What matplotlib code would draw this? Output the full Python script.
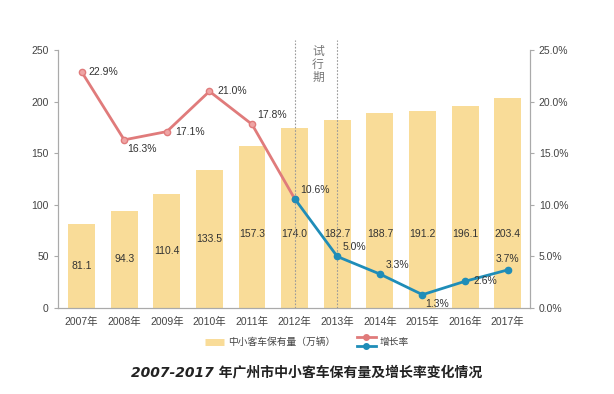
import matplotlib
matplotlib.use('Agg')
import matplotlib.pyplot as plt
from matplotlib.lines import Line2D
from matplotlib.legend_handler import HandlerBase

plt.rcParams['font.family'] = ['Liberation Sans', 'Noto Sans CJK SC']

years = ['2007年', '2008年', '2009年', '2010年', '2011年', '2012年',
         '2013年', '2014年', '2015年', '2016年', '2017年']
stock = [81.1, 94.3, 110.4, 133.5, 157.3, 174.0, 182.7, 188.7, 191.2, 196.1, 203.4]
growth = [22.9, 16.3, 17.1, 21.0, 17.8, 10.6, 5.0, 3.3, 1.3, 2.6, 3.7]
split = 5  # 2012年: red before, blue after

bar_c = '#F9DC98'
red = '#E07B7B'
blue = '#1F8DB8'
txt = '#333333'
axc = '#AAAAAA'


class StackedLines(HandlerBase):
    def create_artists(self, legend, orig_handle, xdescent, ydescent,
                       width, height, fontsize, trans):
        arts = []
        for i, c in enumerate(orig_handle):
            y = height * (1.2 - 1.4 * i) - ydescent
            ln = Line2D([-xdescent, width / 2 - xdescent, width - xdescent], [y, y, y],
                        color=c, lw=2, marker='o', markersize=4, markevery=[1],
                        transform=trans)
            arts.append(ln)
        return arts


fig = plt.figure(figsize=(6.14, 3.94), dpi=100)
ax = fig.add_axes([0.094, 0.218, 0.769, 0.655])
ax2 = ax.twinx()

x = list(range(len(years)))
ax.bar(x, stock, width=0.63, color=bar_c, zorder=1)
for i, v in enumerate(stock):
    ax.text(i, min(v / 2, 72), f'{v:.1f}', ha='center', va='center',
            fontsize=7.5, color=txt, zorder=3)

ax.set_ylim(0, 250)
ax.set_yticks(range(0, 251, 50))
ax.set_xlim(-0.56, 10.52)
ax.set_xticks(x)
ax.set_xticklabels(years)

ax2.set_ylim(0, 25)
ax2.set_yticks(range(0, 26, 5))
ax2.set_yticklabels([f'{t:.1f}%' for t in range(0, 26, 5)])

ax2.plot(x[:split + 1], growth[:split + 1], color=red, lw=2, marker='o',
         markersize=4.5, markerfacecolor='#EFA5A5', zorder=4)
ax2.plot(x[split:], growth[split:], color=blue, lw=2, marker='o',
         markersize=4.5, zorder=4)

# label offsets (points) per point
offs = [(5, 0, 'left', 'center'), (2, -3, 'left', 'top'), (6, 0, 'left', 'center'),
        (6, 0, 'left', 'center'), (4, 3, 'left', 'bottom'), (4, 3, 'left', 'bottom'),
        (4, 3, 'left', 'bottom'), (4, 3, 'left', 'bottom'), (2, -3, 'left', 'top'),
        (6, 0, 'left', 'center'), (0, 4, 'center', 'bottom')]
for i, g in enumerate(growth):
    dx, dy, ha, va = offs[i]
    ax2.annotate(f'{g:.1f}%', (i, g), xytext=(dx, dy), textcoords='offset points',
                 ha=ha, va=va, fontsize=7.5, color=txt, zorder=5)

for xv in (split, split + 1):
    ax2.plot([xv, xv], [0, 26], ls=(0, (1.5, 1.5)), color='#999999', lw=0.8,
             clip_on=False, zorder=2)
ax2.text(split + 0.55, 25.4, '试\n行\n期', ha='center', va='top', fontsize=8.5,
         color='#777777', linespacing=1.1)

for a in (ax, ax2):
    a.spines['top'].set_visible(False)
    for s in ('left', 'right', 'bottom'):
        a.spines[s].set_color(axc)
    a.tick_params(axis='y', colors=axc, labelcolor='#444444', labelsize=7.5,
                  length=3, width=0.8)
    a.tick_params(axis='x', length=0, labelcolor='#444444', labelsize=7.5, pad=6)

handles = [Line2D([], [], color=bar_c, lw=5, solid_capstyle='butt'), (red, blue)]
labels = ['中小客车保有量（万辆）', '增长率']
fig.legend(handles, labels, loc='center', bbox_to_anchor=(0.5, 0.132), ncol=2,
           frameon=False, fontsize=7, handlelength=2.0, handletextpad=0.4,
           columnspacing=2.2, handler_map={tuple: StackedLines()},
           labelcolor='#444444')

fig.text(0.5, 0.056, '2007-2017 年广州市中小客车保有量及增长率变化情况', ha='center',
         va='center', fontsize=10, fontstyle='italic', fontweight='bold',
         color='#222222', family=['DejaVu Sans', 'Noto Sans CJK SC'])

fig.savefig('out.png', dpi=100)
